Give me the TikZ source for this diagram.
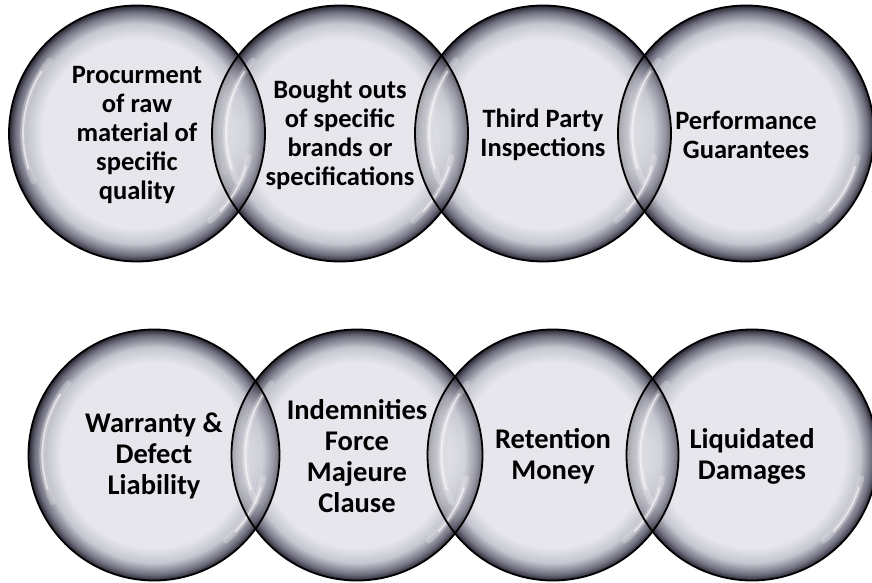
\documentclass[tikz,border=0pt]{standalone}
\usepackage{fontspec}
\setmainfont{Carlito}
\usetikzlibrary{calc}
\definecolor{glassin}{RGB}{230,230,236}
\definecolor{glassmid}{RGB}{198,198,208}
\definecolor{glassdark}{RGB}{110,110,126}
\definecolor{glassedge}{RGB}{40,40,52}
\pgfdeclareradialshading{glass}{\pgfpointorigin}{color(0bp)=(glassin); color(18.5bp)=(glassin); color(21.5bp)=(glassmid); color(23.8bp)=(glassdark); color(25bp)=(glassedge); color(50bp)=(glassedge)}
\tikzset{
  rim/.style={draw=black, line width=1.8pt},
  hlsoft/.style={draw=white, line width=6pt, opacity=0.25, line cap=round},
  hlsharp/.style={draw=white, line width=1.8pt, opacity=0.6, line cap=round},
  txt/.style={align=center, inner sep=0pt, text=black, font=\bfseries\fontsize{26.5}{29}\selectfont},
  txtb/.style={txt, font=\bfseries\fontsize{28.5}{31}\selectfont},
}
\newcommand\glassshade[2]{\shade[shading=glass] (#1) circle[radius=#2pt];}
\newcommand\glasslens[3]{%
  \begin{scope}
    \clip (#2) circle[radius=#3pt];
    \shade[shading=glass, fill opacity=0.65] (#1) circle[radius=#3pt];
  \end{scope}}
\newcommand\glasshl[2]{%
  \pgfmathsetmacro\hlr{0.89*#2}%
  \draw[hlsoft, shift={(#1)}] (140:\hlr pt) arc[start angle=140, end angle=205, radius=\hlr pt];
  \draw[hlsharp, shift={(#1)}] (147:\hlr pt) arc[start angle=147, end angle=198, radius=\hlr pt];
  \draw[hlsoft, shift={(#1)}] (-12:\hlr pt) arc[start angle=-12, end angle=-50, radius=\hlr pt];
  \draw[hlsharp, shift={(#1)}] (-17:\hlr pt) arc[start angle=-17, end angle=-43, radius=\hlr pt];}
\newcommand\glassrim[2]{\draw[rim] (#1) circle[radius=#2pt];}
\begin{document}
\begin{tikzpicture}[x=1pt, y=1pt]
\useasboundingbox (0,0) rectangle (872,582);
\fill[white] (0,0) rectangle (872,582);
\clip (0,0) rectangle (872,582);
% centres
\coordinate (a1) at (137,448.5);
\coordinate (a2) at (340,448.5);
\coordinate (a3) at (543,448.5);
\coordinate (a4) at (746,448.5);
\coordinate (b1) at (154,127);
\coordinate (b2) at (357,127);
\coordinate (b3) at (553,127);
\coordinate (b4) at (752,127);
% top row
\glassshade{a1}{128}
\glassshade{a2}{128}
\glasslens{a1}{a2}{128}
\glassshade{a3}{128}
\glasslens{a2}{a3}{128}
\glassshade{a4}{128}
\glasslens{a3}{a4}{128}
% bottom row
\glassshade{b1}{125.5}
\glassshade{b2}{125.5}
\glasslens{b1}{b2}{125.5}
\glassshade{b3}{125.5}
\glasslens{b2}{b3}{125.5}
\glassshade{b4}{125.5}
\glasslens{b3}{b4}{125.5}
% highlights
\glasshl{a1}{128}\glasshl{a2}{128}\glasshl{a3}{128}\glasshl{a4}{128}
\glasshl{b1}{125.5}\glasshl{b2}{125.5}\glasshl{b3}{125.5}\glasshl{b4}{125.5}
% outlines
\glassrim{a1}{128}\glassrim{a2}{128}\glassrim{a3}{128}\glassrim{a4}{128}
\glassrim{b1}{125.5}\glassrim{b2}{125.5}\glassrim{b3}{125.5}\glassrim{b4}{125.5}
% texts
\node[txt] (t1) at ($(a1)+(0,-1)$) {Procurment\\of raw\\material of\\specific\\quality};
\node[txt] (t2) at ($(a2)+(0,-1)$) {Bought outs\\of specific\\brands or\\specifications};
\node[txt] (t3) at ($(a3)+(0,-1)$) {Third Party\\Inspections};
\node[txt] (t4) at ($(a4)+(0,-1)$) {Performance\\Guarantees};
\node[txtb] (u1) at ($(b1)+(0,-1)$) {Warranty \&\\Defect\\Liability};
\node[txtb] (u2) at ($(b2)+(0,-1)$) {Indemnities\\Force\\Majeure\\Clause};
\node[txtb] (u3) at ($(b3)+(0,-1)$) {Retention\\Money};
\node[txtb] (u4) at ($(b4)+(0,-1)$) {Liquidated\\Damages};
\end{tikzpicture}
\end{document}
